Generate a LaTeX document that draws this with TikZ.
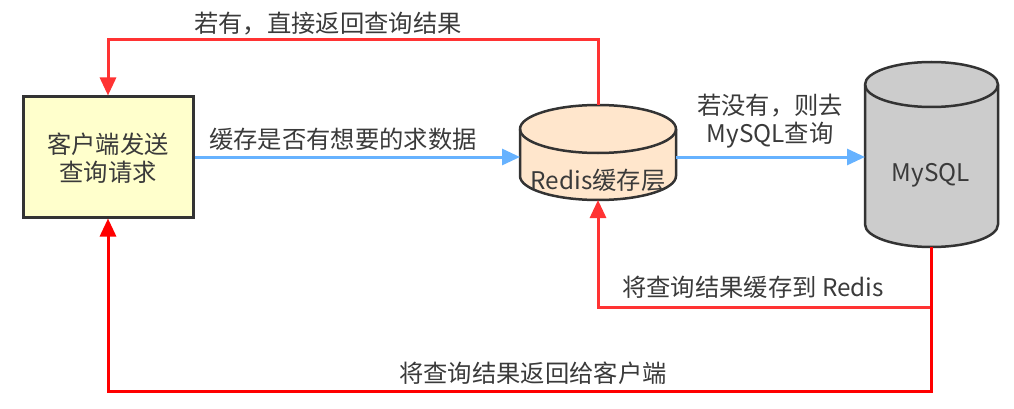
\documentclass[tikz,border=0pt]{standalone}
\usepackage{fontspec}
\setmainfont{Noto Sans CJK SC}
\usetikzlibrary{arrows.meta}
\definecolor{txt}{HTML}{3A3A3A}
\definecolor{bord}{HTML}{333333}
\definecolor{clientfill}{HTML}{FFFFCC}
\definecolor{redisfill}{HTML}{FFE6CC}
\definecolor{sqlfill}{HTML}{CCCCCC}
\definecolor{lred}{HTML}{FF3333}
\definecolor{dred}{HTML}{FF0000}
\definecolor{lblue}{HTML}{66B2FF}
\tikzset{
  lbl/.style={text=txt, font=\fontsize{24.3}{28}\selectfont, inner sep=0pt, align=center},
  cyl/.style={draw=bord, line width=2.5pt},
  redline/.style={draw=lred, line width=3pt, -{Triangle[width=16pt,length=18pt]}},
  redline2/.style={draw=dred, line width=3pt, -{Triangle[width=16pt,length=18pt]}},
  blueline/.style={draw=lblue, line width=3pt, -{Triangle[width=16pt,length=18pt]}},
  ghost/.style={inner sep=0pt, outer sep=0pt}
}
\begin{document}
\begin{tikzpicture}[x=1pt,y=-1pt]
\useasboundingbox (0,0) rectangle (1014,409);
% client box
\node[draw=bord, line width=3pt, fill=clientfill, minimum width=170pt, minimum height=120pt, inner sep=0pt] (client) at (108,157) {};
\node[lbl] (clienttxt) at (108,158) {客户端发送\\查询请求};
% Redis cylinder
\draw[cyl, fill=redisfill] (520,129) -- (520,176) arc[start angle=180, end angle=360, x radius=78pt, y radius=24pt] -- (676,129) arc[start angle=0, end angle=180, x radius=78pt, y radius=24pt] -- cycle;
\draw[cyl] (520,129) arc[start angle=180, end angle=360, x radius=78pt, y radius=24pt];
\node[ghost, minimum width=156pt, minimum height=95pt] (redis) at (598,152.5) {};
\node[lbl] (redistxt) at (598,180) {Redis缓存层};
% MySQL cylinder
\draw[cyl, fill=sqlfill] (865,84.5) -- (865,224.5) arc[start angle=180, end angle=360, x radius=66.5pt, y radius=22.5pt] -- (998,84.5) arc[start angle=0, end angle=180, x radius=66.5pt, y radius=22.5pt] -- cycle;
\draw[cyl] (865,84.5) arc[start angle=180, end angle=360, x radius=66.5pt, y radius=22.5pt];
\node[ghost, minimum width=133pt, minimum height=185pt] (mysql) at (931.5,154.5) {};
\node[lbl] (mysqltxt) at (931,175) {MySQL};
% blue connectors
\draw[blueline] (client.east) -- (client.east -| redis.west);
\draw[blueline] (client.east -| redis.east) -- (client.east -| mysql.west);
% red connectors
\draw[redline] (redis.north) -- ++(0,-65) -| (client.north);
\draw[redline] (mysql.south) -- ++(0,60) -| (redis.south);
\draw[redline2] (mysql.south) -- ++(0,144) -| (client.south);
% labels
\node[lbl] (l1) at (328,24) {若有，直接返回查询结果};
\node[lbl] (l2) at (343,139) {缓存是否有想要的求数据};
\node[lbl] (l3) at (770,121) {若没有，则去\\MySQL查询};
\node[lbl] (l4) at (753,287) {将查询结果缓存到 Redis};
\node[lbl] (l5) at (533,373) {将查询结果返回给客户端};
\end{tikzpicture}
\end{document}
